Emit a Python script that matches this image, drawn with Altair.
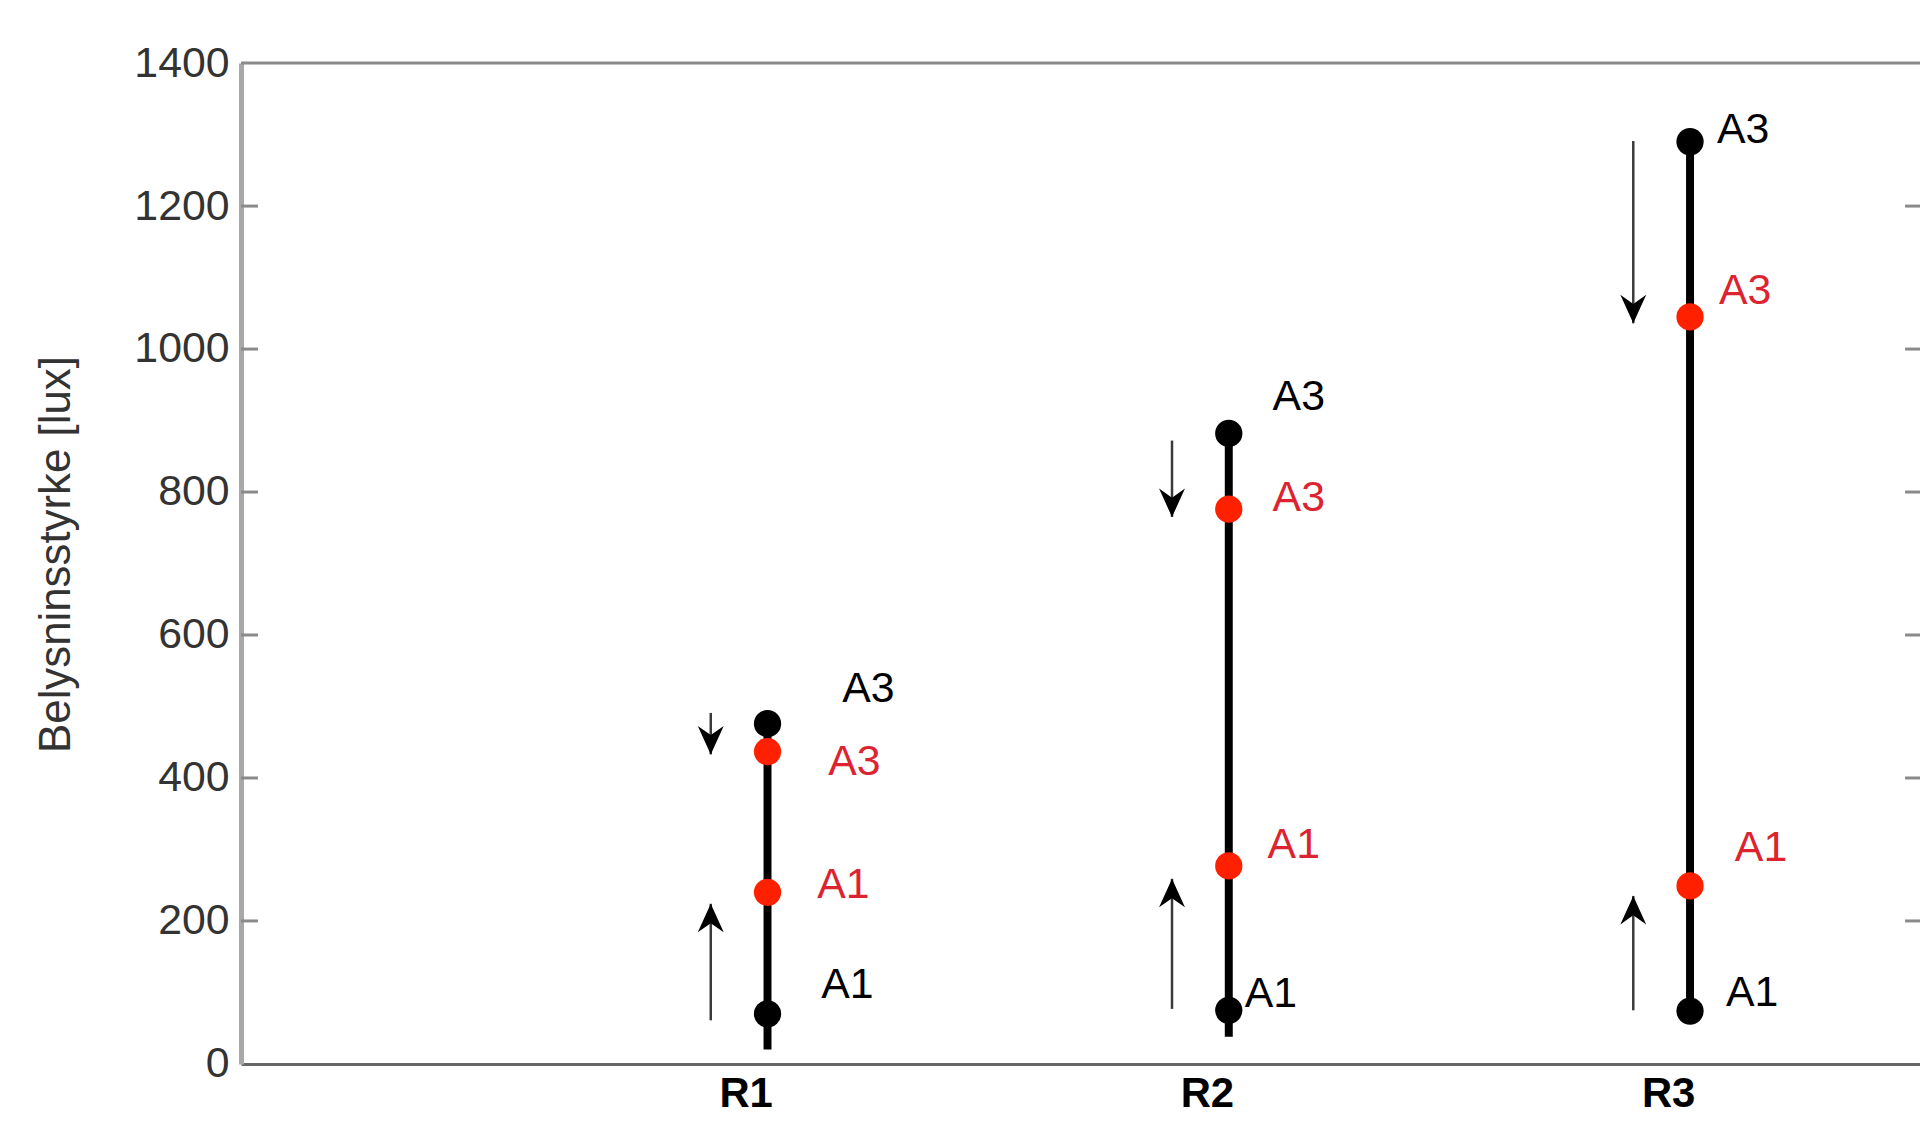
import altair as alt
import pandas as pd

# ---- data ----
categories = ["R1", "R2", "R3"]
black_A1 = [70, 75, 74]
black_A3 = [476, 882, 1290]
red_A1 = [240, 277, 249]
red_A3 = [437, 776, 1045]
line_bottom = [20, 38, 74]
down_start = [491, 872, 1291]
down_end = [433, 765, 1036]
up_start = [61, 77, 75]
up_end = [224, 259, 235]
y_ticks = [0, 200, 400, 600, 800, 1000, 1200, 1400]
inner_ticks = [200, 400, 600, 800, 1000, 1200]

# ---- style ----
W, H = 1686, 1005
FONT = "Liberation Sans"
RED_DOT = "#ff2000"
RED_TXT = "#dc2430"
GRID = "#8a8a8a"

# label offsets (dx, dy) in pixels for each category: black A3, red A3, red A1, black A1
label_offsets = {
    "R1": [(75, -35), (61, 11), (50, -7), (54, -29)],
    "R2": [(44, -37), (44, -11), (39, -21), (16, -16)],
    "R3": [(27, -12), (29, -26), (45, -38), (36, -18)],
}

xscale = alt.Scale(type="point", domain=categories, padding=0.82, align=0.696)
yscale = alt.Scale(domain=[0, 1400], nice=False, zero=True)

xenc = alt.X("cat:N", scale=xscale,
             axis=alt.Axis(title=None, labelFontSize=42, labelFontWeight="bold",
                           labelColor="black", labelFont=FONT, ticks=False,
                           labelPadding=10, labelBaseline="top", labelOffset=-22,
                           labelAngle=0, domainColor="#666666", domainWidth=3,
                           grid=False))
yenc_axis = alt.Axis(title="Belysninsstyrke [lux]", values=y_ticks, ticks=False,
                     format="d",
                     labelFontSize=43, labelColor="#333333", labelFont=FONT,
                     labelPadding=12, domainColor="#a8a8a8", domainWidth=5,
                     grid=False, titleFontSize=44, titleFont=FONT,
                     titleFontWeight="normal", titleColor="#333333",
                     titleX=-172, titleY=493, titleAngle=270,
                     titleAlign="center", titleBaseline="alphabetic")

main = pd.DataFrame({
    "cat": categories, "bottom": line_bottom, "top": black_A3,
    "bA1": black_A1, "bA3": black_A3, "rA1": red_A1, "rA3": red_A3,
})

# axis carrier + vertical lines
lines = alt.Chart(main).mark_rule(color="black", strokeWidth=8).encode(
    x=xenc,
    y=alt.Y("bottom:Q", scale=yscale, axis=yenc_axis),
    y2="top:Q",
)

ticks_df = pd.DataFrame({"v": inner_ticks})
ticks_left = alt.Chart(ticks_df).mark_rule(color=GRID, strokeWidth=3).encode(
    y=alt.Y("v:Q", scale=yscale), x=alt.value(0), x2=alt.value(17))
ticks_right = alt.Chart(ticks_df).mark_rule(color=GRID, strokeWidth=3).encode(
    y=alt.Y("v:Q", scale=yscale), x=alt.value(W - 15), x2=alt.value(W))
top_df = pd.DataFrame({"v": [y_ticks[-1]]})
top_line = alt.Chart(top_df).mark_rule(color=GRID, strokeWidth=3).encode(
    y=alt.Y("v:Q", scale=yscale), x=alt.value(0), x2=alt.value(W))

arrows_df = pd.DataFrame({
    "cat": categories * 2,
    "start": down_start + up_start,
    "end": down_end + up_end,
    "dir": ["down"] * 3 + ["up"] * 3,
})
stems = alt.Chart(arrows_df).mark_rule(color="#3a3a3a", strokeWidth=2.5, xOffset=-57).encode(
    x=alt.X("cat:N", scale=xscale), y=alt.Y("start:Q", scale=yscale), y2="end:Q")

DOWN = "M0,0 L-1,-2.2 L0,-1.5 L1,-2.2 Z"
UP = "M0,0 L-1,2.2 L0,1.5 L1,2.2 Z"
head_down = alt.Chart(arrows_df).transform_filter(alt.datum.dir == "down").mark_point(
    shape=DOWN, filled=True, color="black", size=676, opacity=1, xOffset=-57).encode(
    x=alt.X("cat:N", scale=xscale), y=alt.Y("end:Q", scale=yscale))
head_up = alt.Chart(arrows_df).transform_filter(alt.datum.dir == "up").mark_point(
    shape=UP, filled=True, color="black", size=676, opacity=1, xOffset=-57).encode(
    x=alt.X("cat:N", scale=xscale), y=alt.Y("end:Q", scale=yscale))

def dots(field, color):
    return alt.Chart(main).mark_circle(color=color, size=750, opacity=1).encode(
        x=alt.X("cat:N", scale=xscale), y=alt.Y(f"{field}:Q", scale=yscale))

layers = [ticks_left, ticks_right, top_line, lines, stems, head_down, head_up,
          dots("bA1", "black"), dots("bA3", "black"), dots("rA1", RED_DOT), dots("rA3", RED_DOT)]

series = [("bA3", "A3", "black"), ("rA3", "A3", RED_TXT), ("rA1", "A1", RED_TXT), ("bA1", "A1", "black")]
for i, cat in enumerate(categories):
    for j, (field, txt, col) in enumerate(series):
        dx, dy = label_offsets[cat][j]
        row = pd.DataFrame({"cat": [cat], "val": [main[field][i]], "label": [txt]})
        layers.append(alt.Chart(row).mark_text(
            align="left", baseline="middle", dx=dx, dy=dy, fontSize=43,
            font=FONT, color=col).encode(
            x=alt.X("cat:N", scale=xscale), y=alt.Y("val:Q", scale=yscale),
            text="label:N"))

chart = alt.layer(*layers).properties(
    width=W, height=H,
    autosize=alt.AutoSizeParams(type="none"),
    padding={"left": 234, "top": 53, "right": 0, "bottom": 60},
).configure_view(stroke=GRID, strokeWidth=3).configure(background="white")

chart.save("out.html", embed_options={"renderer": "svg", "actions": False})
